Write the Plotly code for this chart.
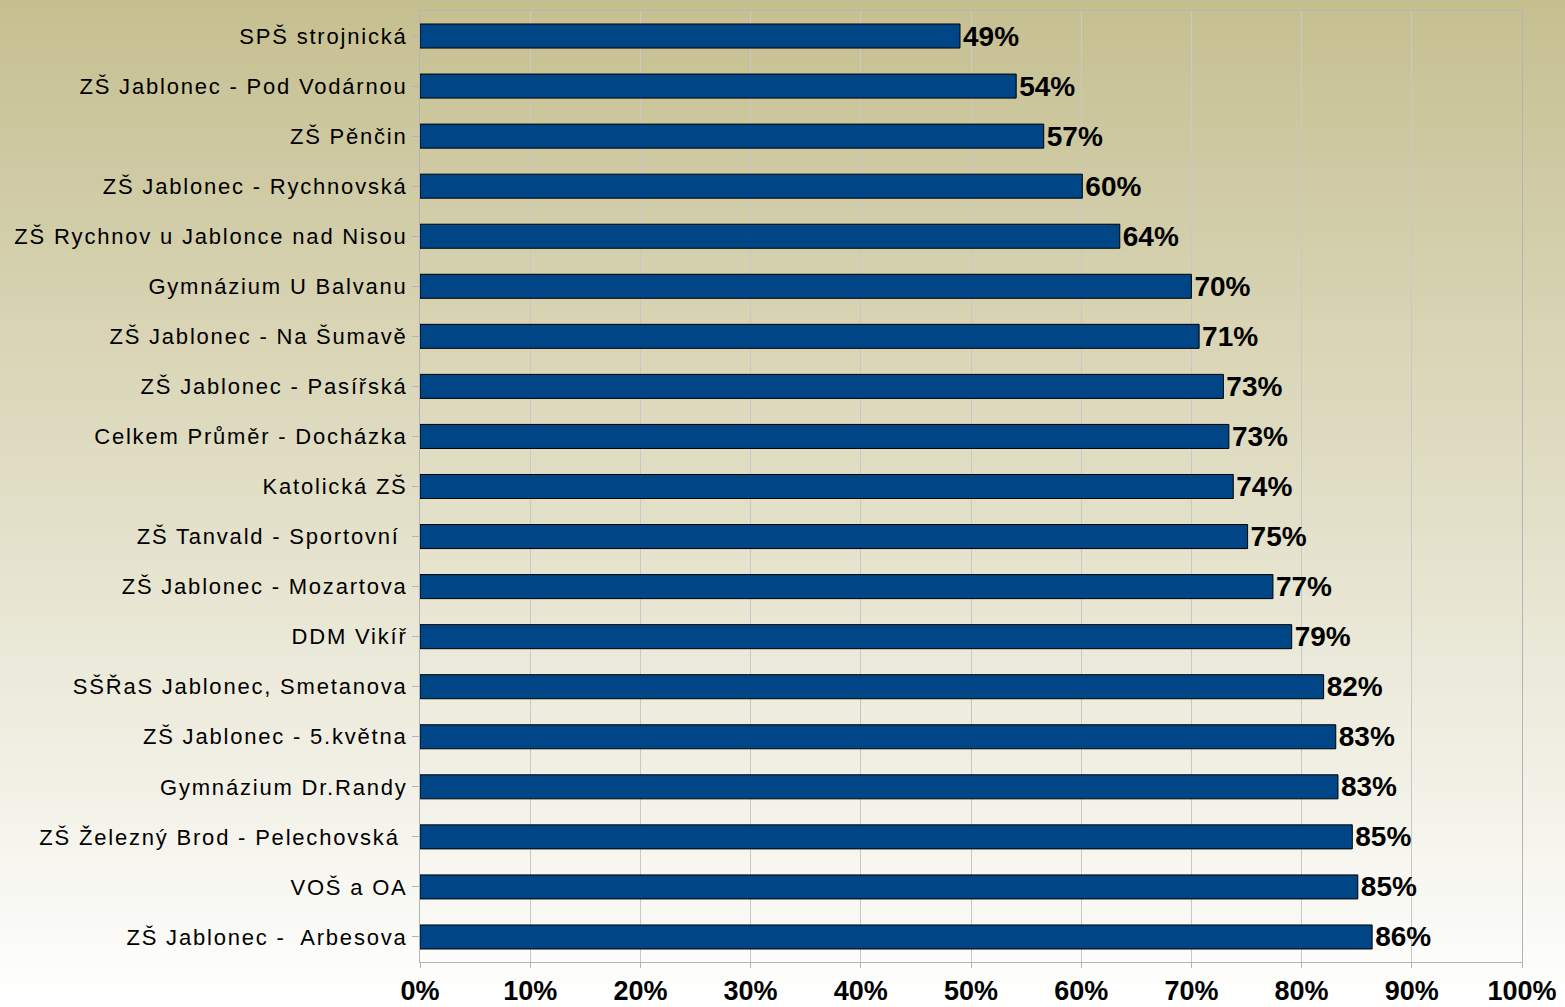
import plotly.graph_objects as go

categories = [
    "SPŠ strojnická",
    "ZŠ Jablonec - Pod Vodárnou",
    "ZŠ Pěnčin",
    "ZŠ Jablonec - Rychnovská",
    "ZŠ Rychnov u Jablonce nad Nisou",
    "Gymnázium U Balvanu",
    "ZŠ Jablonec - Na Šumavě",
    "ZŠ Jablonec - Pasířská",
    "Celkem Průměr - Docházka",
    "Katolická ZŠ",
    "ZŠ Tanvald - Sportovní ",
    "ZŠ Jablonec - Mozartova",
    "DDM Vikíř",
    "SŠŘaS Jablonec, Smetanova",
    "ZŠ Jablonec - 5.května",
    "Gymnázium Dr.Randy",
    "ZŠ Železný Brod - Pelechovská ",
    "VOŠ a OA",
    "ZŠ Jablonec -  Arbesova",
]
values = [0.490, 0.541, 0.566, 0.601, 0.635, 0.700, 0.707, 0.729, 0.734, 0.738,
          0.751, 0.774, 0.791, 0.820, 0.831, 0.833, 0.846, 0.851, 0.864]
tick_vals = [i / 10 for i in range(11)]
tick_text = [f"{i * 10}%" for i in range(11)]

W, H = 1565, 1007
ml, mr, mt, mb = 420, 43, 11, 45

fig = go.Figure()
fig.add_trace(go.Bar(
    y=categories, x=values, orientation="h",
    width=0.48,
    marker=dict(color="#004586", line=dict(color="#000000", width=1)),
    text=[f"{round(v * 100)}%" for v in values],
    textposition="outside",
    constraintext="none",
    cliponaxis=False,
    textfont=dict(family="Liberation Sans, Arial, sans-serif", size=28, color="#000000"),
    texttemplate="<b>%{text}</b>",
    hoverinfo="skip",
))

# background gradient (vertical, khaki to white)
pw = W - ml - mr
ph = H - mt - mb
steps = 120
top = (197, 191, 144)
bot = (255, 255, 255)
shapes = []
for i in range(steps):
    y0px = i * H / steps
    y1px = (i + 1) * H / steps + 1
    t = (i + 0.5) / steps
    c = tuple(int(round(top[k] + (bot[k] - top[k]) * t)) for k in range(3))
    shapes.append(dict(
        type="rect", xref="paper", yref="paper", layer="below",
        x0=(0 - ml) / pw, x1=(W - ml) / pw,
        y0=(H - mb - y1px) / ph, y1=(H - mb - y0px) / ph,
        fillcolor=f"rgb{c}", line=dict(width=0),
    ))

fig.update_layout(
    width=W, height=H,
    margin=dict(l=ml, r=mr, t=mt, b=mb, pad=0, autoexpand=False),
    paper_bgcolor="#ffffff",
    plot_bgcolor="rgba(0,0,0,0)",
    showlegend=False,
    shapes=shapes,
    bargap=0.52,
    font=dict(family="Liberation Sans, Arial, sans-serif", color="#000000"),
)
fig.update_xaxes(
    range=[0, 1], tickvals=tick_vals, ticktext=[f"<b>{t}</b>" for t in tick_text],
    tickfont=dict(family="Liberation Sans, Arial, sans-serif", size=27, color="#000000"),
    showgrid=True, gridcolor="#c8c8c8", gridwidth=1,
    showline=True, linecolor="#b4b4b4", linewidth=1, mirror=True,
    ticks="outside", ticklen=5, tickcolor="#b4b4b4",
    zeroline=False, fixedrange=True, automargin=False,
)
fig.update_yaxes(
    autorange="reversed", categoryorder="array", categoryarray=categories,
    tickfont=dict(family="Liberation Sans, Arial, sans-serif", size=22, color="#000000"),
    showline=True, linecolor="#b4b4b4", linewidth=1, mirror=True,
    ticks="outside", ticklen=7, tickcolor="#b4b4b4",
    showgrid=False, fixedrange=True, automargin=False,
)

post = (
    "document.body.style.margin='0';document.body.style.overflow='hidden';"
    "document.querySelectorAll('.ytick text').forEach(function(e){e.style.letterSpacing='1.8px';});"
)
fig.write_html("out.html", config={"displayModeBar": False}, post_script=post)
